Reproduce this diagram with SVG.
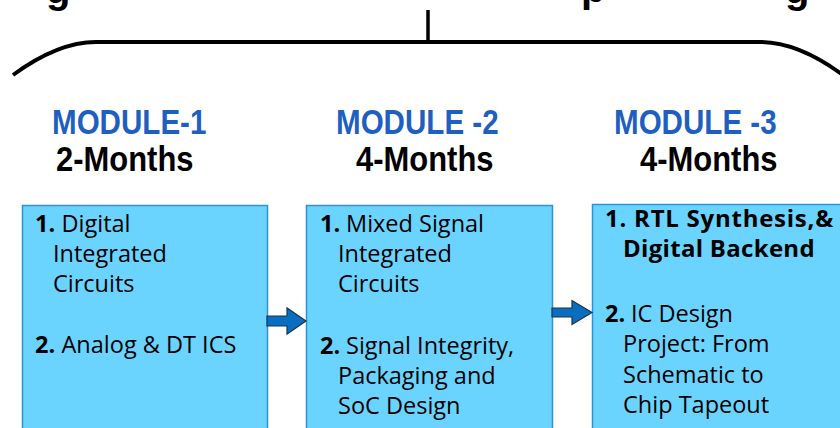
<svg xmlns="http://www.w3.org/2000/svg" width="840" height="428" viewBox="0 0 840 428">
<style>
.frag{font-family:"Liberation Sans",Arial,sans-serif;font-weight:bold;font-size:40px;fill:#000}
.mod{font-family:"Liberation Sans",Arial,sans-serif;font-weight:bold;font-size:35px;fill:#1F5FBF}
.mon{font-family:"Liberation Sans",Arial,sans-serif;font-weight:bold;font-size:36px;fill:#000}
.box{fill:#6AD4FF;stroke:#2F93D3;stroke-width:1.5}
.bt{font-family:"Open Sans","DejaVu Sans",sans-serif;font-size:23.5px;fill:#000}
.b{font-weight:bold}
.arr{fill:#0A6EC0;stroke:#1B3550;stroke-width:1.2;stroke-linejoin:miter}
.brace{fill:none;stroke:#000;stroke-width:4}
</style>
<g id="title-fragments">
<text class="frag" x="46" y="3">g</text>
<text class="frag" x="581" y="2">p</text>
<text class="frag" x="785" y="3">g</text>
</g>
<g id="brace">
<path class="brace" d="M13,75 Q58,42 96,42 L760,42 Q798,42 843,75"/>
<line x1="428" y1="10" x2="428" y2="42" stroke="#000" stroke-width="3.5"/>
</g>
<g id="module1">
<text class="mod" transform="translate(52,134) scale(0.845,1)">MODULE-1</text>
<text class="mon" transform="translate(56,171) scale(0.86,1)">2-Months</text>
<rect class="box" x="22.5" y="205.5" width="245" height="240"/>
<text class="bt"><tspan class="b" x="35" y="232">1.</tspan><tspan x="61.5" y="232">Digital</tspan><tspan x="53" y="262">Integrated</tspan><tspan x="53" y="292">Circuits</tspan><tspan class="b" x="35" y="353">2.</tspan><tspan x="61.5" y="353">Analog &amp; DT ICS</tspan></text>
</g>
<g id="module2">
<text class="mod" transform="translate(336,134) scale(0.845,1)">MODULE -2</text>
<text class="mon" transform="translate(356,171) scale(0.86,1)">4-Months</text>
<rect class="box" x="306.5" y="205.5" width="246" height="240"/>
<text class="bt"><tspan class="b" x="320" y="232">1.</tspan><tspan x="346" y="232">Mixed Signal</tspan><tspan x="338" y="262">Integrated</tspan><tspan x="338" y="292">Circuits</tspan><tspan class="b" x="320" y="354">2.</tspan><tspan x="346" y="354">Signal Integrity,</tspan><tspan x="338" y="384">Packaging and</tspan><tspan x="338" y="414">SoC Design</tspan></text>
</g>
<g id="module3">
<text class="mod" transform="translate(614,134) scale(0.845,1)">MODULE -3</text>
<text class="mon" transform="translate(640,171) scale(0.86,1)">4-Months</text>
<rect class="box" x="592.5" y="204.5" width="260" height="240"/>
<text class="bt"><tspan class="b" x="605" y="227" font-size="24" letter-spacing="0.75">1. RTL Synthesis,&amp;</tspan><tspan class="b" x="623" y="257" font-size="24" letter-spacing="0.3">Digital Backend</tspan><tspan class="b" x="605" y="322">2.</tspan><tspan x="631" y="322">IC Design</tspan><tspan x="623" y="352">Project: From</tspan><tspan x="623" y="383">Schematic to</tspan><tspan x="623" y="413">Chip Tapeout</tspan></text>
</g>
<g id="connectors">
<path class="arr" d="M267,316 L287,316 L287,308 L306,321 L287,334 L287,326 L267,326 Z"/>
<path class="arr" d="M552,308 L572,308 L572,300.5 L592,312.5 L572,324.5 L572,317 L552,317 Z"/>
</g>
</svg>
